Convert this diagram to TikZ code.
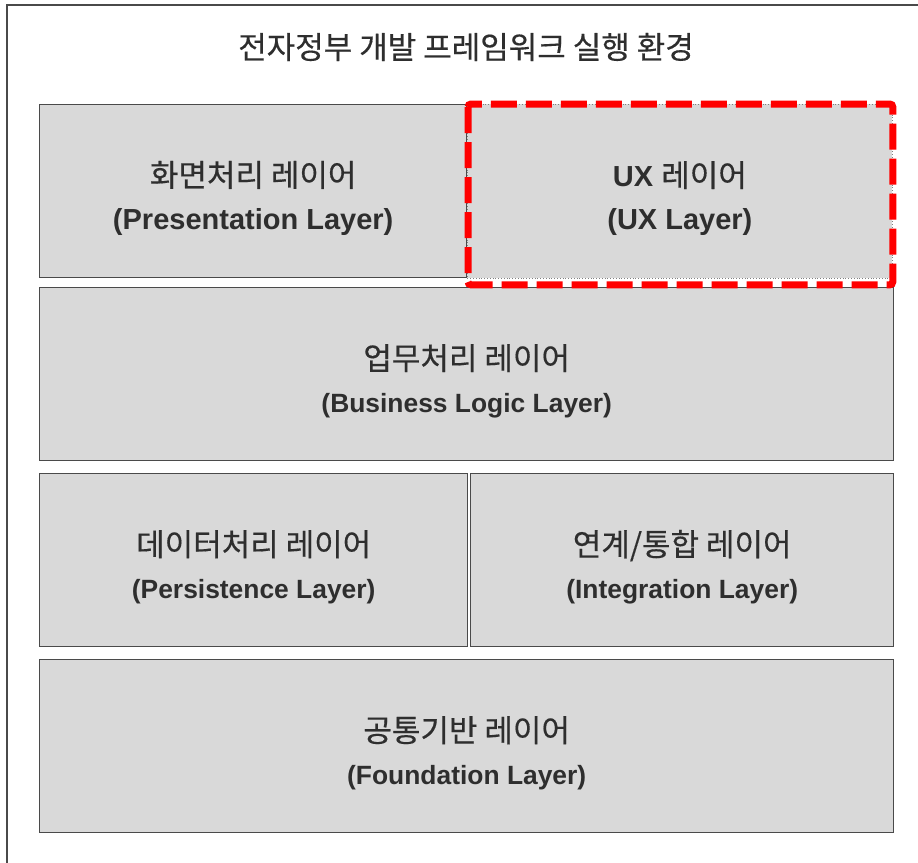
\documentclass[tikz,border=0pt]{standalone}
\usepackage{fontspec}
\setmainfont{Liberation Sans}
\newfontfamily\kr[FakeBold=0.4]{Noto Sans CJK KR}
\usetikzlibrary{positioning}

\definecolor{boxfill}{HTML}{D9D9D9}
\definecolor{boxline}{HTML}{4A4A4A}
\definecolor{textcol}{HTML}{2E2E2E}

\newcommand{\krline}[1]{{\kr\fontsize{31}{43}\selectfont #1}}

\tikzset{
    layerbox/.style={draw=boxline, fill=boxfill, line width=1.4pt, anchor=north west,
        minimum width=#1, minimum height=173pt, inner sep=0pt},
    layertext/.style={inner sep=0pt, align=center, text=textcol,
        font=\fontsize{29}{43}\selectfont, yshift=-7pt},
    uxmark/.style={draw=red, line width=7pt, dash pattern=on 26pt off 9pt, rounded corners=3pt},
}

\begin{document}
\begin{tikzpicture}[x=1pt,y=-1pt]
    \useasboundingbox (0,0) rectangle (918,862);
    \draw[boxline, line width=1.5pt] (7,5) rectangle (940,880);
    \node[text=textcol, font=\kr\fontsize{31}{36}\selectfont] (title) at (466,47) {전자정부 개발 프레임워크 실행 환경};
    % layers
    \foreach \name/\x/\y/\w/\kor/\eng/\es in {pres/39/104/427/{화면처리 레이어}/{Presentation Layer}/29,
        biz/39/287/854/{업무처리 레이어}/{Business Logic Layer}/26.4,
        pers/39/473/428/{데이터처리 레이어}/{Persistence Layer}/26.4,
        integ/470/473/423/{연계/통합 레이어}/{Integration Layer}/26.4,
        found/39/659/854/{공통기반 레이어}/{Foundation Layer}/26.4} {
        \node[layerbox=\w] (\name) at (\x,\y) {};
        \node[layertext] (\name-txt) at (\name.center)
            {\krline{\kor}\\\fontsize{\es}{43}\selectfont\textbf{(\eng)}};
    }
    \node[layerbox=425, draw=gray, line width=0.8pt, dotted, minimum height=174pt] (ux) at (467,104) {};
    \node[layertext] (ux-txt) at (ux.center) {\textbf{UX} \krline{레이어}\\\textbf{(UX Layer)}};
    \draw[uxmark] ([shift={(1,0)}]ux.north west) rectangle ([shift={(0,6)}]ux.south east);
\end{tikzpicture}
\end{document}
